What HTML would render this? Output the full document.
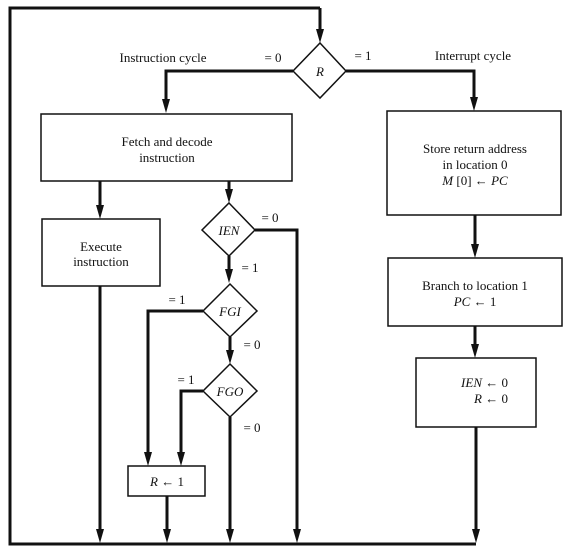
<!DOCTYPE html>
<html><head><meta charset="utf-8"><style>
html,body{margin:0;padding:0;background:#fff;}
svg{display:block;}
text{font-family:"Liberation Serif",serif;font-size:13px;fill:#111;}
.i{font-style:italic;}
</style></head><body>
<svg width="570" height="555" viewBox="0 0 570 555" xmlns="http://www.w3.org/2000/svg">
<defs>
<marker id="a" viewBox="0 0 8 14" refX="4" refY="14" markerWidth="8" markerHeight="14" markerUnits="userSpaceOnUse" orient="auto-start-reverse">
<path d="M0,0 L8,0 L4,14 Z" fill="#111" transform="rotate(0)"/>
</marker>
</defs>
<g fill="none" stroke="#111" stroke-width="3">
<!-- outer loop -->
<polyline points="100,544 10,544 10,8 320,8"/>
<line x1="320" y1="8" x2="320" y2="30"/>
<line x1="10" y1="544" x2="476" y2="544"/>
<!-- R branches -->
<polyline points="293,71 166,71 166,100"/>
<polyline points="346,71 474,71 474,98"/>
<!-- fetch down -->
<line x1="100" y1="181" x2="100" y2="206"/>
<line x1="229" y1="181" x2="229" y2="190"/>
<!-- IEN -->
<polyline points="255,230 297,230 297,530"/>
<line x1="229" y1="256" x2="229" y2="270"/>
<!-- FGI -->
<polyline points="203,311 148,311 148,453"/>
<line x1="230" y1="337" x2="230" y2="351"/>
<!-- FGO -->
<polyline points="203,391 181,391 181,453"/>
<line x1="230" y1="417" x2="230" y2="530"/>
<!-- others -->
<line x1="100" y1="286" x2="100" y2="530"/>
<line x1="167" y1="496" x2="167" y2="530"/>
<line x1="475" y1="215" x2="475" y2="245"/>
<line x1="475" y1="326" x2="475" y2="345"/>
<line x1="476" y1="427" x2="476" y2="530"/>
</g>
<!-- arrowheads -->
<g fill="#111">
<path d="M316,29 L324,29 L320,43 Z"/>
<path d="M162,99 L170,99 L166,113 Z"/>
<path d="M470,97 L478,97 L474,111 Z"/>
<path d="M96,205 L104,205 L100,219 Z"/>
<path d="M225,189 L233,189 L229,203 Z"/>
<path d="M225,269 L233,269 L229,283 Z"/>
<path d="M226,350 L234,350 L230,364 Z"/>
<path d="M144,452 L152,452 L148,466 Z"/>
<path d="M177,452 L185,452 L181,466 Z"/>
<path d="M471,244 L479,244 L475,258 Z"/>
<path d="M471,344 L479,344 L475,358 Z"/>
<path d="M96,529 L104,529 L100,543 Z"/>
<path d="M163,529 L171,529 L167,543 Z"/>
<path d="M226,529 L234,529 L230,543 Z"/>
<path d="M293,529 L301,529 L297,543 Z"/>
<path d="M472,529 L480,529 L476,543 Z"/>
</g>
<g fill="#fff" stroke="#111" stroke-width="1.5">
<polygon points="320,43 346,71 320,98 293,71"/>
<rect x="41" y="114" width="251" height="67"/>
<rect x="387" y="111" width="174" height="104"/>
<rect x="42" y="219" width="118" height="67"/>
<polygon points="229,203 255,230 229,256 202,230"/>
<polygon points="230,284 257,311 230,337 203,311"/>
<polygon points="230,364 257,391 230,417 203,391"/>
<rect x="128" y="466" width="77" height="30"/>
<rect x="388" y="258" width="174" height="68"/>
<rect x="416" y="358" width="120" height="69"/>
</g>
<g text-anchor="middle">
<text x="163" y="62">Instruction cycle</text>
<text x="273" y="62">= 0</text>
<text x="363" y="60">= 1</text>
<text x="473" y="60">Interrupt cycle</text>
<text x="320" y="76" class="i">R</text>
<text x="167" y="146">Fetch and decode</text>
<text x="167" y="162">instruction</text>
<text x="475" y="153">Store return address</text>
<text x="475" y="169">in location 0</text>
<text x="475" y="185"><tspan class="i">M</tspan> [0] ← <tspan class="i">PC</tspan></text>
<text x="101" y="251">Execute</text>
<text x="101" y="266">instruction</text>
<text x="229" y="235" class="i">IEN</text>
<text x="270" y="222">= 0</text>
<text x="250" y="272">= 1</text>
<text x="230" y="316" class="i">FGI</text>
<text x="177" y="304">= 1</text>
<text x="252" y="349">= 0</text>
<text x="230" y="396" class="i">FGO</text>
<text x="186" y="384">= 1</text>
<text x="252" y="432">= 0</text>
<text x="167" y="486"><tspan class="i">R</tspan> ← 1</text>
<text x="475" y="290">Branch to location 1</text>
<text x="475" y="306"><tspan class="i">PC</tspan> ← 1</text>
</g>
<g text-anchor="end">
<text x="508" y="387"><tspan class="i">IEN</tspan> ← 0</text>
<text x="508" y="403"><tspan class="i">R</tspan> ← 0</text>
</g>
</svg>
</body></html>
